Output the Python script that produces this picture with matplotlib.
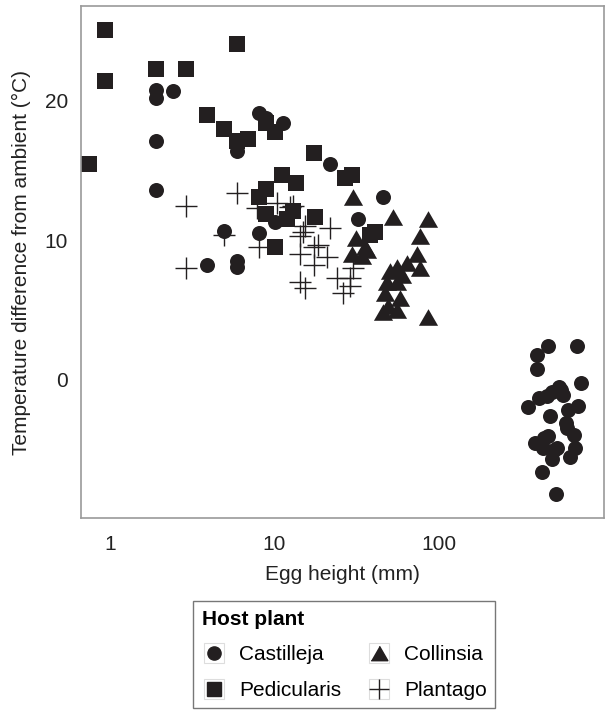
import numpy as np
import matplotlib.pyplot as plt
from matplotlib.lines import Line2D

plt.rcParams['font.family'] = ['Liberation Sans', 'DejaVu Sans']

# Castilleja (circulos)
cas_x = [1.9, 1.9, 2.4, 1.9, 1.9, 5.9, 5.9, 8.0, 8.9, 11.2, 4.9, 8.0, 10.1, 3.9, 5.9, 5.9,
         21.8, 45.7, 32.4,
         465, 698, 398, 401, 735, 539, 490, 576, 411, 353, 710, 619, 478, 610, 670, 465,
         388, 434, 526, 683, 637, 490, 427, 520, 560, 456, 505, 600, 440]
cas_y = [20.8, 20.2, 20.7, 17.15, 13.6, 16.4, 16.9, 19.1, 18.8, 18.4, 10.7, 10.5, 11.3, 8.24, 8.5, 8.1,
         15.5, 13.1, 11.5,
         2.44, 2.44, 1.8, 0.77, -0.24, -0.48, -0.84, -1.08, -1.3, -1.96, -1.86, -2.15, -2.6, -3.46,
         -3.94, -4.0, -4.5, -4.9, -4.9, -4.9, -5.5, -5.7, -6.6, -8.2, -0.7, -1.15, -5.0, -3.1, -4.2]

# Pedicularis (cuadrados)
ped_x = [0.93, 0.93, 5.9, 1.9, 2.9, 0.74, 3.9, 4.9, 5.9, 6.9, 10.1, 8.9, 11.1, 13.6, 8.9, 8.0,
         8.9, 13.0, 11.9, 10.1, 17.6, 17.4, 26.9, 29.6, 38, 41]
ped_y = [25.1, 21.4, 24.1, 22.3, 22.3, 15.5, 19.0, 18.0, 17.1, 17.25, 17.8, 18.4, 14.7, 14.1, 13.7, 13.1,
         11.9, 12.1, 11.5, 9.55, 11.7, 16.3, 14.5, 14.7, 10.4, 10.6]

# Collinsia (triangulos)
col_x = [30.2, 52.9, 86.8, 76.9, 31.3, 35.6, 29.6, 34.0, 73.6, 64.3, 55.6, 76.9, 50.3, 59.5,
         48.3, 55.6, 47, 58, 49.3, 55.6, 46, 86.8, 36.6]
col_y = [13.1, 11.7, 11.5, 10.3, 10.2, 9.55, 9.0, 8.9, 9.0, 8.4, 8.1, 8.0, 7.8, 7.5,
         7.05, 7.05, 6.2, 5.9, 5.3, 5.0, 4.9, 4.5, 9.3]

# Plantago (cruces)
pla_x = [2.9, 5.9, 2.9, 4.9, 8.0, 10.3, 7.8, 12.4, 15.3, 14.3, 17.3, 14.3, 17.3, 14.3, 15.3,
         13.0, 21.8, 15.0, 18.5, 20.8, 23.9, 28.8, 30.2, 26.3, 28.8]
pla_y = [12.5, 13.4, 8.0, 10.4, 9.55, 12.7, 12.3, 12.4, 11.0, 10.3, 9.55, 9.0, 8.24, 7.05, 6.57,
         12.5, 10.9, 10.6, 9.7, 8.8, 7.3, 7.3, 8.0, 6.2, 6.7]

negro = '#231f20'
tri = [(-1, -0.866), (1, -0.866), (0, 0.866)]

fig = plt.figure(figsize=(6.06, 7.10), dpi=100)
ax = fig.add_axes([0.133, 0.2704, 0.8637, 0.7211])

ax.scatter(cas_x, cas_y, marker='o', s=10.8**2, color=negro, linewidths=0)
ax.scatter(ped_x, ped_y, marker='s', s=11**2, color=negro, linewidths=0)
ax.scatter(col_x, col_y, marker=tri, s=13.8**2, color=negro, linewidths=0)
ax.scatter(pla_x, pla_y, marker='+', s=16**2, color=negro, linewidths=1.0)

ax.set_xscale('log')
ax.set_xlim(0.658, 1020)
ax.set_ylim(-9.9, 26.8)
ax.set_xticks([1, 10, 100])
ax.set_xticklabels(['1', '10', '100'])
ax.xaxis.set_minor_locator(plt.NullLocator())
ax.set_yticks([0, 10, 20])
ax.tick_params(axis='both', length=0, labelsize=15, colors='#222222')
ax.tick_params(axis='x', pad=12)
ax.tick_params(axis='y', pad=9)
for sp in ax.spines.values():
    sp.set_color('#9a9a9a')
    sp.set_linewidth(1.2)

ax.set_xlabel('Egg height (mm)', fontsize=15, color='#222222', labelpad=8)
ax.set_ylabel('Temperature difference from ambient (°C)', fontsize=15, color='#222222', labelpad=10)

# leyenda con cajitas grises detras de cada simbolo
def caja():
    return Line2D([], [], ls='', marker='s', markersize=15, mfc='white', mec='#dddddd', mew=0.8)

h_cas = (caja(), Line2D([], [], ls='', marker='o', markersize=9.5, color=negro))
h_ped = (caja(), Line2D([], [], ls='', marker='s', markersize=9.5, color=negro))
h_col = (caja(), Line2D([], [], ls='', marker=tri, markersize=12, color=negro))
h_pla = (caja(), Line2D([], [], ls='', marker='+', markersize=15, color=negro, mew=1.0))

leg = fig.legend([h_cas, h_ped, h_col, h_pla],
                 ['Castilleja', 'Pedicularis', 'Collinsia', 'Plantago'],
                 ncols=2, loc='center', bbox_to_anchor=(0.568, 0.0775),
                 title='Host plant', title_fontproperties={'weight': 'bold', 'size': 15},
                 fontsize=15, frameon=True, fancybox=False, edgecolor='#555555',
                 handlelength=1.2, handletextpad=0.6, columnspacing=1.2,
                 labelspacing=0.8, borderpad=0.4, alignment='left')
leg.get_frame().set_linewidth(1.0)

fig.savefig('out.png', dpi=100)
